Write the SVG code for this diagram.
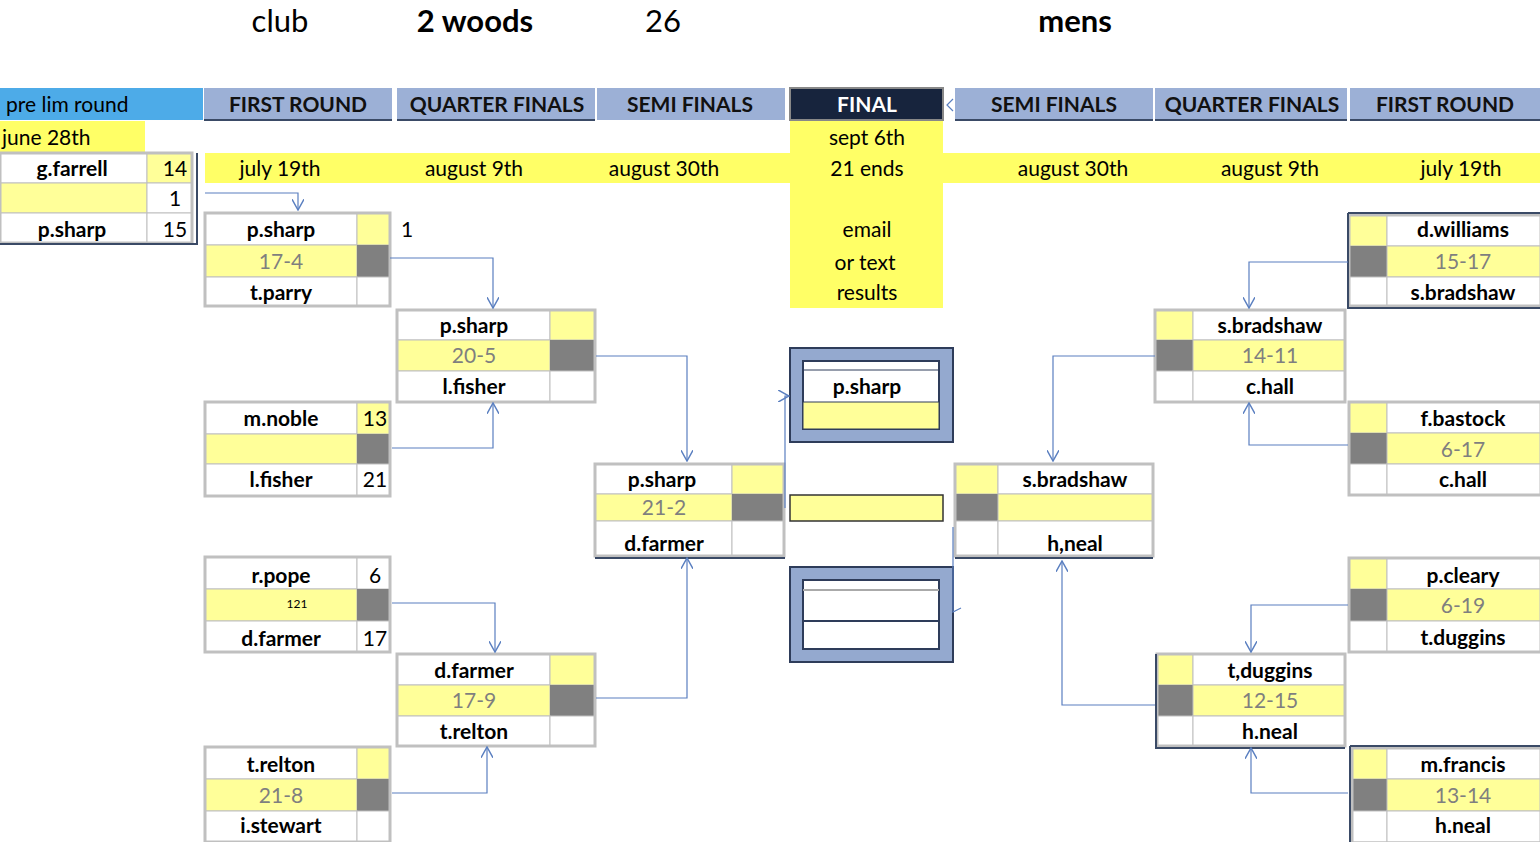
<svg xmlns="http://www.w3.org/2000/svg" width="1540" height="842" viewBox="0 0 1540 842">
<style>
text{font-family:Lato,"Noto Sans","Liberation Sans",sans-serif;font-size:21px;text-anchor:middle}
.b{font-weight:bold;fill:#000}
.g{fill:#7f7f7f}
.y{fill:#ffff99}
.Y{fill:#ffff66}
.w{fill:#fff}
.d{fill:#808080}
.cell{stroke:#bfbfbf;stroke-width:1}
.box{fill:none;stroke:#c0c0c0;stroke-width:3}
.hd{fill:#9cb0d6}
.ht{font-weight:bold;fill:#111;font-size:21px}
.c{fill:none;stroke:#5a7fc0;stroke-width:1.2;marker-end:url(#a)}
</style>
<defs><marker id="a" viewBox="0 0 10 10" refX="9" refY="5" markerWidth="10" markerHeight="10" orient="auto"><path d="M0,0L9,5L0,10" fill="none" stroke="#5a7fc0" stroke-width="1.2"/></marker></defs>
<rect width="1540" height="842" fill="#fff"/>
<g id="titles">
<text x="280" y="32" style="font-size:31px">club</text>
<text x="475" y="32" class="b" style="font-size:31px">2 woods</text>
<text x="663" y="32" style="font-size:31px">26</text>
<text x="1075" y="32" class="b" style="font-size:31px">mens</text>
</g>
<g id="headers">
<rect x="0" y="88" width="203" height="32" fill="#4dabe8"/>
<text x="6" y="112" style="text-anchor:start">pre lim round</text>
<rect x="204" y="88" width="188" height="32" class="hd"/><text x="298" y="112" class="ht">FIRST ROUND</text>
<rect x="397" y="88" width="198" height="32" class="hd"/><text x="497" y="112" class="ht">QUARTER FINALS</text>
<rect x="597" y="88" width="188" height="32" class="hd"/><text x="690" y="112" class="ht">SEMI FINALS</text>
<rect x="790" y="88" width="153" height="32" fill="#17243d" stroke="#888" stroke-width="2"/><text x="867" y="112" class="ht" style="fill:#fff">FINAL</text>
<rect x="955" y="88" width="198" height="32" class="hd"/><text x="1054" y="112" class="ht">SEMI FINALS</text>
<rect x="1155" y="88" width="192" height="32" class="hd"/><text x="1252" y="112" class="ht">QUARTER FINALS</text>
<rect x="1350" y="88" width="190" height="32" class="hd"/><text x="1445" y="112" class="ht">FIRST ROUND</text>
<path d="M204 120H392M397 120H595M955 120H1153M1155 120H1347M1350 120H1540" stroke="#3a4a66" stroke-width="2"/>
<rect x="0" y="121" width="145" height="31" class="Y"/>
<text x="2" y="145" style="text-anchor:start">june 28th</text>
<rect x="205" y="153" width="585" height="30" class="Y"/>
<rect x="943" y="153" width="597" height="30" class="Y"/>
<rect x="790" y="121" width="153" height="187" class="Y"/>
<text x="280" y="176">july 19th</text><text x="474" y="176">august 9th</text><text x="664" y="176">august 30th</text>
<text x="867" y="145">sept 6th</text><text x="867" y="176">21 ends</text>
<text x="867" y="237">email</text><text x="865" y="270">or text</text><text x="867" y="300">results</text>
<text x="1073" y="176">august 30th</text><text x="1270" y="176">august 9th</text><text x="1461" y="176">july 19th</text>
</g>
<g id="prelim">
<rect x="0" y="153" width="147" height="30" class="w cell"/><rect x="147" y="153" width="45" height="30" class="y cell"/>
<rect x="0" y="183" width="147" height="30" class="y cell"/><rect x="147" y="183" width="45" height="30" class="w cell"/>
<rect x="0" y="213" width="147" height="30" class="w cell"/><rect x="147" y="213" width="45" height="30" class="w cell"/>
<rect x="0" y="153" width="192" height="90" class="box"/>
<path d="M0 244H197V153" fill="none" stroke="#3a4a66" stroke-width="2"/>
<text x="72" y="176" class="b">g.farrell</text><text x="175" y="176">14</text>
<text x="175" y="206">1</text>
<text x="72" y="237" class="b">p.sharp</text><text x="175" y="237">15</text>
</g>
<!-- left boxes: name col width nw, score col sw -->
<g id="r1a">
<rect x="205" y="213" width="152" height="32" class="w cell"/><rect x="357" y="213" width="33" height="32" class="y cell"/>
<rect x="205" y="245" width="152" height="32" class="y cell"/><rect x="357" y="245" width="33" height="32" class="d"/>
<rect x="205" y="277" width="152" height="29" class="w cell"/><rect x="357" y="277" width="33" height="29" class="w cell"/>
<rect x="205" y="213" width="185" height="93" class="box"/>
<text x="281" y="237" class="b">p.sharp</text><text x="281" y="269" class="g">17-4</text><text x="281" y="300" class="b">t.parry</text>
<text x="407" y="237">1</text>
</g>
<g id="r1b">
<rect x="205" y="402" width="152" height="32" class="w cell"/><rect x="357" y="402" width="33" height="32" class="y cell"/>
<rect x="205" y="434" width="152" height="30" class="y cell"/><rect x="357" y="434" width="33" height="30" class="d"/>
<rect x="205" y="464" width="152" height="32" class="w cell"/><rect x="357" y="464" width="33" height="32" class="w cell"/>
<rect x="205" y="402" width="185" height="94" class="box"/>
<text x="281" y="426" class="b">m.noble</text><text x="375" y="426">13</text><text x="281" y="487" class="b">l.fisher</text><text x="375" y="487">21</text>
</g>
<g id="r1c">
<rect x="205" y="557" width="152" height="32" class="w cell"/><rect x="357" y="557" width="33" height="32" class="w cell"/>
<rect x="205" y="589" width="152" height="32" class="y cell"/><rect x="357" y="589" width="33" height="32" class="d"/>
<rect x="205" y="621" width="152" height="31" class="w cell"/><rect x="357" y="621" width="33" height="31" class="w cell"/>
<rect x="205" y="557" width="185" height="95" class="box"/>
<text x="281" y="583" class="b">r.pope</text><text x="375" y="583">6</text>
<text x="297" y="608" style="font-size:12px">121</text>
<text x="281" y="646" class="b">d.farmer</text><text x="375" y="646">17</text>
</g>
<g id="r1d">
<rect x="205" y="747" width="152" height="32" class="w cell"/><rect x="357" y="747" width="33" height="32" class="y cell"/>
<rect x="205" y="779" width="152" height="32" class="y cell"/><rect x="357" y="779" width="33" height="32" class="d"/>
<rect x="205" y="811" width="152" height="31" class="w cell"/><rect x="357" y="811" width="33" height="31" class="w cell"/>
<rect x="205" y="747" width="185" height="95" class="box"/>
<text x="281" y="772" class="b">t.relton</text><text x="281" y="803" class="g">21-8</text><text x="281" y="833" class="b">i.stewart</text>
</g>
<g id="qf1">
<rect x="397" y="310" width="153" height="30" class="w cell"/><rect x="550" y="310" width="45" height="30" class="y cell"/>
<rect x="397" y="340" width="153" height="31" class="y cell"/><rect x="550" y="340" width="45" height="31" class="d"/>
<rect x="397" y="371" width="153" height="31" class="w cell"/><rect x="550" y="371" width="45" height="31" class="w cell"/>
<rect x="397" y="310" width="198" height="92" class="box"/>
<text x="474" y="333" class="b">p.sharp</text><text x="474" y="363" class="g">20-5</text><text x="474" y="394" class="b">l.fisher</text>
</g>
<g id="qf2">
<rect x="397" y="654" width="153" height="31" class="w cell"/><rect x="550" y="654" width="45" height="31" class="y cell"/>
<rect x="397" y="685" width="153" height="31" class="y cell"/><rect x="550" y="685" width="45" height="31" class="d"/>
<rect x="397" y="716" width="153" height="30" class="w cell"/><rect x="550" y="716" width="45" height="30" class="w cell"/>
<rect x="397" y="654" width="198" height="92" class="box"/>
<text x="474" y="678" class="b">d.farmer</text><text x="474" y="708" class="g">17-9</text><text x="474" y="739" class="b">t.relton</text>
</g>
<g id="sf-left">
<rect x="595" y="464" width="137" height="30" class="w cell"/><rect x="732" y="464" width="52" height="30" class="y cell"/>
<rect x="595" y="494" width="137" height="27" class="y cell"/><rect x="732" y="494" width="52" height="27" class="d"/>
<rect x="595" y="521" width="137" height="35" class="w cell"/><rect x="732" y="521" width="52" height="35" class="w cell"/>
<rect x="595" y="464" width="189" height="92" class="box"/>
<path d="M595 558H785" stroke="#3a4a66" stroke-width="2"/>
<text x="662" y="487" class="b">p.sharp</text><text x="664" y="515" class="g">21-2</text><text x="664" y="551" class="b">d.farmer</text>
</g>
<g id="final">
<rect x="790" y="348" width="163" height="94" fill="#94a9cf" stroke="#2e3c5a" stroke-width="2"/>
<rect x="803" y="361" width="136" height="68" class="w" stroke="#2e3c5a" stroke-width="2"/>
<rect x="803" y="402" width="136" height="27" class="y" stroke="#2e3c5a" stroke-width="1"/>
<path d="M803 370H939" stroke="#2e3c5a"/>
<text x="867" y="394" class="b">p.sharp</text>
<rect x="790" y="495" width="153" height="26" class="y" stroke="#333" stroke-width="1.5"/>
<rect x="790" y="567" width="163" height="95" fill="#94a9cf" stroke="#2e3c5a" stroke-width="2"/>
<rect x="803" y="580" width="136" height="69" class="w" stroke="#2e3c5a" stroke-width="2"/>
<path d="M803 590H939" stroke="#aaa" stroke-width="2"/><path d="M803 621H939" stroke="#2e3c5a" stroke-width="2"/>
</g>
<!-- right side -->
<g id="sf-right">
<rect x="955" y="464" width="43" height="30" class="y cell"/><rect x="998" y="464" width="155" height="30" class="w cell"/>
<rect x="955" y="494" width="43" height="27" class="d"/><rect x="998" y="494" width="155" height="27" class="y cell"/>
<rect x="955" y="521" width="43" height="35" class="w cell"/><rect x="998" y="521" width="155" height="35" class="w cell"/>
<rect x="955" y="464" width="198" height="92" class="box"/>
<path d="M955 558H1153" stroke="#3a4a66" stroke-width="2"/>
<text x="1075" y="487" class="b">s.bradshaw</text><text x="1075" y="551" class="b">h,neal</text>
</g>
<g id="qf-r1">
<rect x="1155" y="310" width="38" height="30" class="y cell"/><rect x="1193" y="310" width="152" height="30" class="w cell"/>
<rect x="1155" y="340" width="38" height="31" class="d"/><rect x="1193" y="340" width="152" height="31" class="y cell"/>
<rect x="1155" y="371" width="38" height="31" class="w cell"/><rect x="1193" y="371" width="152" height="31" class="w cell"/>
<rect x="1155" y="310" width="190" height="92" class="box"/>
<text x="1270" y="333" class="b">s.bradshaw</text><text x="1270" y="363" class="g">14-11</text><text x="1270" y="394" class="b">c.hall</text>
</g>
<g id="qf-r2">
<rect x="1157" y="654" width="36" height="31" class="y cell"/><rect x="1193" y="654" width="152" height="31" class="w cell"/>
<rect x="1157" y="685" width="36" height="31" class="d"/><rect x="1193" y="685" width="152" height="31" class="y cell"/>
<rect x="1157" y="716" width="36" height="30" class="w cell"/><rect x="1193" y="716" width="152" height="30" class="w cell"/>
<rect x="1157" y="654" width="188" height="92" class="box"/>
<path d="M1156 654V748H1345" fill="none" stroke="#3a4a66" stroke-width="2"/>
<text x="1270" y="678" class="b">t,duggins</text><text x="1270" y="708" class="g">12-15</text><text x="1270" y="739" class="b">h.neal</text>
</g>
<g id="r1-rd">
<rect x="1349" y="215" width="38" height="31" class="y cell"/><rect x="1387" y="215" width="153" height="31" class="w cell"/>
<rect x="1349" y="246" width="38" height="31" class="d"/><rect x="1387" y="246" width="153" height="31" class="y cell"/>
<rect x="1349" y="277" width="38" height="29" class="w cell"/><rect x="1387" y="277" width="153" height="29" class="w cell"/>
<rect x="1349" y="215" width="193" height="91" class="box"/>
<path d="M1348 213H1540M1348 213V308H1540" fill="none" stroke="#3a4a66" stroke-width="2"/>
<text x="1463" y="237" class="b">d.williams</text><text x="1463" y="269" class="g">15-17</text><text x="1463" y="300" class="b">s.bradshaw</text>
</g>
<g id="r1-rf">
<rect x="1349" y="402" width="38" height="31" class="y cell"/><rect x="1387" y="402" width="153" height="31" class="w cell"/>
<rect x="1349" y="433" width="38" height="31" class="d"/><rect x="1387" y="433" width="153" height="31" class="y cell"/>
<rect x="1349" y="464" width="38" height="31" class="w cell"/><rect x="1387" y="464" width="153" height="31" class="w cell"/>
<rect x="1349" y="402" width="193" height="93" class="box"/>
<text x="1463" y="426" class="b">f.bastock</text><text x="1463" y="457" class="g">6-17</text><text x="1463" y="487" class="b">c.hall</text>
</g>
<g id="r1-rp">
<rect x="1349" y="558" width="38" height="31" class="y cell"/><rect x="1387" y="558" width="153" height="31" class="w cell"/>
<rect x="1349" y="589" width="38" height="32" class="d"/><rect x="1387" y="589" width="153" height="32" class="y cell"/>
<rect x="1349" y="621" width="38" height="31" class="w cell"/><rect x="1387" y="621" width="153" height="31" class="w cell"/>
<rect x="1349" y="558" width="193" height="94" class="box"/>
<text x="1463" y="583" class="b">p.cleary</text><text x="1463" y="613" class="g">6-19</text><text x="1463" y="645" class="b">t.duggins</text>
</g>
<g id="r1-rm">
<rect x="1352" y="748" width="35" height="31" class="y cell"/><rect x="1387" y="748" width="153" height="31" class="w cell"/>
<rect x="1352" y="779" width="35" height="32" class="d"/><rect x="1387" y="779" width="153" height="32" class="y cell"/>
<rect x="1352" y="811" width="35" height="31" class="w cell"/><rect x="1387" y="811" width="153" height="31" class="w cell"/>
<rect x="1352" y="748" width="190" height="95" class="box"/>
<path d="M1350 746H1540M1350 746V842" fill="none" stroke="#3a4a66" stroke-width="2"/>
<text x="1463" y="772" class="b">m.francis</text><text x="1463" y="803" class="g">13-14</text><text x="1463" y="833" class="b">h.neal</text>
</g>
<g id="connectors">
<path class="c" d="M205 193H298V210"/>
<path class="c" d="M390 258H493V308"/>
<path class="c" d="M392 448H493V403"/>
<path class="c" d="M596 356H687V461"/>
<path class="c" d="M392 603H495V652"/>
<path class="c" d="M392 793H487V747"/>
<path class="c" d="M596 698H687V558"/>
<path class="c" d="M785 508V396H789"/>
<path class="c" d="M1348 262H1249V308"/>
<path class="c" d="M1348 445H1249V403"/>
<path class="c" d="M1155 356H1053V461"/>
<path class="c" d="M1348 605H1251V652"/>
<path class="c" d="M1348 793H1251V748"/>
<path class="c" d="M1155 705H1062V561"/>
<path d="M953 527V612L961 608" fill="none" stroke="#5a7fc0" stroke-width="1.2"/>
<path d="M953 99L947 105L953 111" fill="none" stroke="#5a7fc0" stroke-width="1.2"/>
</g>
</svg>
